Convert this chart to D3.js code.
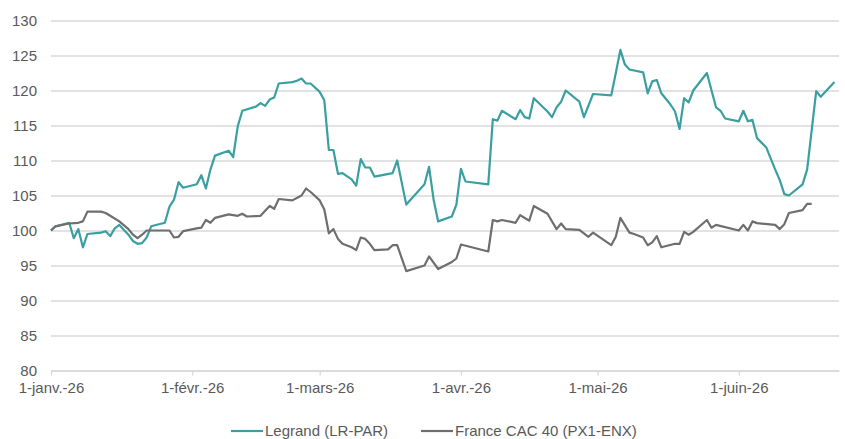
<!DOCTYPE html>
<html>
<head>
<meta charset="utf-8">
<script src="https://cdn.jsdelivr.net/npm/d3@7"></script>
<style>
  body { margin: 0; background: #fff; }
  text { font-family: "Liberation Sans", Arial, sans-serif; }
</style>
</head>
<body>
<div id="chart"></div>
<script>
// values (base 100 on 1 Jan 2026)
var legrandDates = ["2026-01-01","2026-01-02","2026-01-05","2026-01-06","2026-01-07","2026-01-08","2026-01-09",
  "2026-01-12","2026-01-13","2026-01-14","2026-01-15","2026-01-16","2026-01-18","2026-01-19","2026-01-20",
  "2026-01-21","2026-01-22","2026-01-23","2026-01-26","2026-01-27","2026-01-28","2026-01-29","2026-01-30",
  "2026-02-02","2026-02-03","2026-02-04","2026-02-05","2026-02-06","2026-02-09","2026-02-10","2026-02-11",
  "2026-02-12","2026-02-15","2026-02-16","2026-02-17","2026-02-18","2026-02-19","2026-02-20","2026-02-23",
  "2026-02-24","2026-02-25","2026-02-26","2026-02-27","2026-03-01","2026-03-02","2026-03-03","2026-03-04",
  "2026-03-05","2026-03-06","2026-03-08","2026-03-09","2026-03-10","2026-03-11","2026-03-12","2026-03-13",
  "2026-03-17","2026-03-18","2026-03-20","2026-03-24","2026-03-25","2026-03-26","2026-03-27","2026-03-30",
  "2026-03-31","2026-04-01","2026-04-02","2026-04-07","2026-04-08","2026-04-09","2026-04-10","2026-04-13",
  "2026-04-14","2026-04-15","2026-04-16","2026-04-17","2026-04-20","2026-04-21","2026-04-22","2026-04-23",
  "2026-04-24","2026-04-27","2026-04-28","2026-04-30","2026-05-04","2026-05-05","2026-05-06","2026-05-07",
  "2026-05-08","2026-05-11","2026-05-12","2026-05-13","2026-05-14","2026-05-15","2026-05-17","2026-05-18",
  "2026-05-19","2026-05-20","2026-05-21","2026-05-22","2026-05-25","2026-05-27","2026-05-28","2026-05-29",
  "2026-06-01","2026-06-02","2026-06-03","2026-06-04","2026-06-05","2026-06-07","2026-06-08","2026-06-09",
  "2026-06-10","2026-06-11","2026-06-12","2026-06-15","2026-06-16","2026-06-18","2026-06-19","2026-06-22"];
var legrandValues = [100.0,100.6,101.1,98.9,100.2,97.6,99.5,
  99.7,99.9,99.2,100.3,100.8,99.4,98.5,98.1,
  98.2,99.0,100.6,101.1,103.4,104.4,106.9,106.1,
  106.6,107.9,106.0,108.7,110.7,111.4,110.5,114.9,
  117.1,117.7,118.2,117.8,118.7,119.0,121.0,121.2,
  121.4,121.7,121.0,121.0,119.8,118.6,111.5,111.5,
  108.1,108.2,107.3,106.4,110.2,109.0,109.0,107.7,
  108.2,110.0,103.7,106.6,109.1,104.4,101.3,102.0,
  103.7,108.8,107.0,106.6,115.9,115.7,117.1,115.9,
  117.2,116.2,116.0,118.9,117.0,116.2,117.6,118.4,
  120.0,118.4,116.2,119.5,119.3,122.5,125.8,123.7,
  123.0,122.6,119.6,121.3,121.5,119.6,118.0,117.0,
  114.5,118.9,118.3,120.0,122.5,117.6,117.1,116.0,
  115.6,117.1,115.6,115.8,113.2,111.9,110.3,108.7,
  107.2,105.2,105.0,106.6,108.7,119.9,119.1,121.2];

var cacDates = ["2026-01-01","2026-01-02","2026-01-05","2026-01-07","2026-01-08","2026-01-09","2026-01-12",
  "2026-01-13","2026-01-14","2026-01-16","2026-01-18","2026-01-19","2026-01-20","2026-01-21","2026-01-22",
  "2026-01-24","2026-01-27","2026-01-28","2026-01-29","2026-01-30","2026-02-02","2026-02-03","2026-02-04",
  "2026-02-05","2026-02-06","2026-02-09","2026-02-11","2026-02-12","2026-02-13","2026-02-16","2026-02-18",
  "2026-02-19","2026-02-20","2026-02-23","2026-02-25","2026-02-26","2026-02-27","2026-03-01","2026-03-02",
  "2026-03-03","2026-03-04","2026-03-05","2026-03-06","2026-03-08","2026-03-09","2026-03-10","2026-03-11",
  "2026-03-12","2026-03-13","2026-03-16","2026-03-17","2026-03-18","2026-03-20","2026-03-24","2026-03-25",
  "2026-03-27","2026-03-30","2026-03-31","2026-04-01","2026-04-07","2026-04-08","2026-04-09","2026-04-10",
  "2026-04-13","2026-04-14","2026-04-16","2026-04-17","2026-04-20","2026-04-22","2026-04-23","2026-04-24",
  "2026-04-27","2026-04-29","2026-04-30","2026-05-04","2026-05-05","2026-05-06","2026-05-08","2026-05-09",
  "2026-05-11","2026-05-12","2026-05-13","2026-05-14","2026-05-15","2026-05-18","2026-05-19","2026-05-20",
  "2026-05-21","2026-05-22","2026-05-25","2026-05-26","2026-05-27","2026-06-01","2026-06-02","2026-06-03",
  "2026-06-04","2026-06-05","2026-06-09","2026-06-10","2026-06-11","2026-06-12","2026-06-15","2026-06-16",
  "2026-06-17"];
var cacValues = [100.0,100.6,101.0,101.1,101.3,102.7,102.7,
  102.5,102.1,101.3,100.2,99.4,98.9,99.4,100.0,
  100.0,100.0,99.0,99.1,99.9,100.3,100.4,101.5,
  101.1,101.8,102.3,102.1,102.4,102.0,102.1,103.5,
  103.1,104.5,104.3,105.0,106.0,105.5,104.3,103.0,
  99.6,100.2,98.8,98.1,97.6,97.2,99.0,98.8,
  98.1,97.2,97.3,97.9,97.9,94.2,95.0,96.3,
  94.5,95.5,96.0,98.0,97.0,101.5,101.3,101.5,
  101.1,102.2,101.4,103.5,102.4,100.2,101.0,100.2,
  100.1,99.1,99.7,97.9,99.1,101.8,99.7,99.5,
  99.0,97.9,98.3,99.2,97.6,98.1,98.1,99.8,
  99.4,99.8,101.5,100.4,100.8,100.0,100.8,100.0,
  101.3,101.05,100.8,100.2,100.9,102.5,102.9,103.8,
  103.8];

var seriesNames = ["Legrand (LR-PAR)", "France CAC 40 (PX1-ENX)"];
var seriesColors = ["#3a9fa0", "#6e6e6e"];
var yTicks = [80, 85, 90, 95, 100, 105, 110, 115, 120, 125, 130];
var xTickDates = ["2026-01-01","2026-02-01","2026-03-01","2026-04-01","2026-05-01","2026-06-01"];
var xTickLabels = ["1-janv.-26","1-févr.-26","1-mars-26","1-avr.-26","1-mai-26","1-juin-26"];

var w = 845, h = 439;
var mLeft = 51, mRight = 839, mTop = 20.5, mBottom = 370.5;

var parse = d3.timeParse("%Y-%m-%d");

var svg = d3.select("#chart")
    .append("svg")
    .attr("width", w)
    .attr("height", h);

var x = d3.scaleTime()
    .domain([parse("2026-01-01"), parse("2026-06-23")])
    .range([mLeft, mRight]);
var y = d3.scaleLinear()
    .domain([80, 130])
    .range([mBottom, mTop]);

// gridlines + y labels
var yAxis = svg.append("g")
    .attr("transform", "translate(" + mLeft + ",0)")
    .call(d3.axisLeft(y).tickValues(yTicks).tickSize(-(mRight - mLeft)).tickPadding(14));
yAxis.select(".domain").remove();
yAxis.selectAll("line").attr("stroke", "#d9d9d9").attr("stroke-width", 1.3);
yAxis.selectAll("text").attr("fill", "#595959").style("font-size", "15px");

// x axis
var xAxis = svg.append("g")
    .attr("transform", "translate(0," + mBottom + ")")
    .call(d3.axisBottom(x)
        .tickValues(xTickDates.map(parse))
        .tickFormat(function(d, i) { return xTickLabels[i]; })
        .tickSizeInner(5).tickSizeOuter(0).tickPadding(7));
xAxis.select(".domain").attr("stroke", "#d9d9d9").attr("stroke-width", 1.3);
xAxis.selectAll("line").attr("stroke", "#d9d9d9").attr("stroke-width", 1.3);
xAxis.selectAll("text").attr("fill", "#595959").style("font-size", "15px");

// lines
var line = d3.line()
    .x(function(d) { return x(d.date); })
    .y(function(d) { return y(d.value); });

var legrand = legrandDates.map(function(d, i) { return { date: parse(d), value: legrandValues[i] }; });
var cac = cacDates.map(function(d, i) { return { date: parse(d), value: cacValues[i] }; });

[legrand, cac].forEach(function(s, i) {
    svg.append("path")
        .datum(s)
        .attr("fill", "none")
        .attr("stroke", seriesColors[i])
        .attr("stroke-width", 2.2)
        .attr("stroke-linejoin", "round")
        .attr("d", line);
});

// legend
var legendX = [231, 421];
var legend = svg.append("g");
seriesNames.forEach(function(name, i) {
    legend.append("line")
        .attr("x1", legendX[i]).attr("x2", legendX[i] + 32)
        .attr("y1", 431).attr("y2", 431)
        .attr("stroke", seriesColors[i])
        .attr("stroke-width", 2.2);
    legend.append("text")
        .attr("x", legendX[i] + 34)
        .attr("y", 436)
        .attr("fill", "#595959")
        .style("font-size", "15px")
        .text(name);
});
</script>
</body>
</html>
